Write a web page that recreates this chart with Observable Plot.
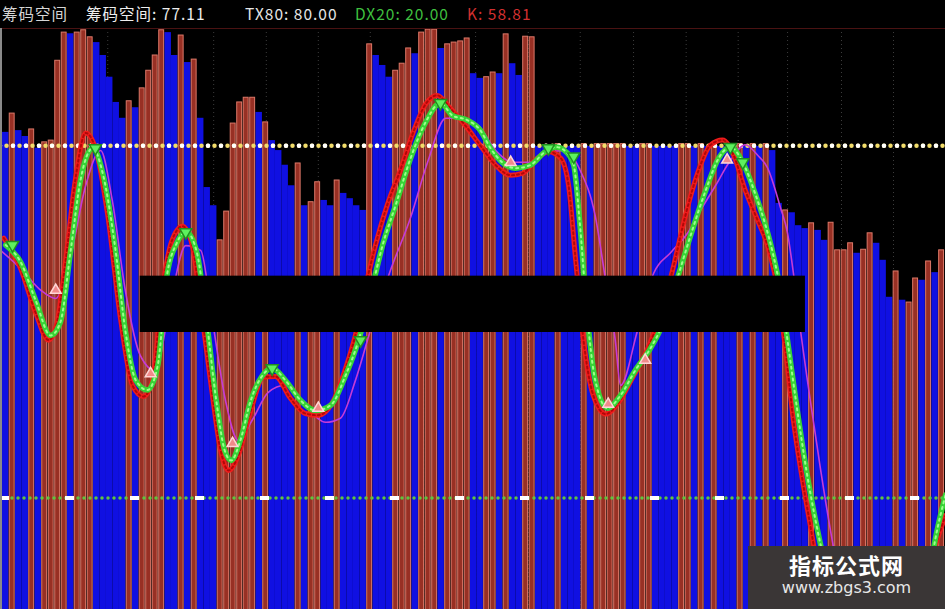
<!DOCTYPE html>
<html><head><meta charset="utf-8">
<script src="https://cdn.jsdelivr.net/npm/d3@7"></script>
<script src="https://cdn.jsdelivr.net/npm/@observablehq/plot@0.6"></script>
<style>
html,body{margin:0;padding:0;background:#000;}
#wrap{position:relative;width:945px;height:609px;overflow:hidden;background:#000;}
#chart svg{display:block;}
#head{position:absolute;left:0;top:0;height:28px;width:945px;font-family:"Noto Sans CJK SC","DejaVu Sans",sans-serif;font-size:15.5px;white-space:nowrap;}
#head span{position:absolute;top:4px;line-height:18px;letter-spacing:1px;}
#wm{position:absolute;left:748px;top:546px;width:197px;height:63px;background:#3a3636;font-family:"Noto Sans CJK SC",sans-serif;text-align:center;}
#wm .t1{color:#fff;font-weight:bold;font-size:22px;line-height:25px;margin-top:6px;letter-spacing:1px;}
#wm .t2{color:#e8e8e8;font-size:16px;line-height:22px;font-family:"DejaVu Sans",sans-serif;}
</style></head>
<body>
<div id="wrap"><div id="chart"></div><div id="head"></div><div id="wm"></div></div>
<script>
// ---- header texts ----
const headLabels = ["筹码空间", "筹码空间: 77.11", "TX80: 80.00", "DX20: 20.00", "K: 58.81"];
const headColors = ["#d6d6d6", "#eeeeee", "#e6e6e6", "#3fbf3f", "#d23030"];
const headLeft = [2, 86, 245, 355, 467];
const watermark = ["指标公式网", "www.zbgs3.com"];

// ---- thresholds ----
const txLevel = [80];
const dxLevel = [20];

// ---- bars (筹码空间) ----
const barKind = ("BRBBRBRRRR" + "BRRRBBBBBR" + "BRRRRBBRBR" + "BBBRRRRRRB" + "RBBBBRBRRB" +
  "BRBBBBRBBB" + "RRRBRRRBRR" + "RRBBRRBRBB" + "RRBBBRBBBR" + "BRRRRRBBRR" +
  "BBBBRRBRBR" + "BBBRBRBRBB" + "RBBBRBBRRR" + "RBRRBBBRBR" + "RBRBR").split("");
const barValue = [
  82.3, 85.5, 82.6, 81.6, 82.8, 79.6, 80.6, 80.9, 94.5, 99.3,
  99.1, 99.3, 99.7, 98.5, 97.6, 95.4, 91.7, 87.4, 84.7, 87.6,
  86.5, 89.8, 92.8, 95.4, 99.7, 99.3, 95.4, 98.8, 94.2, 94.7,
  84.7, 72.9, 69.8, 63.9, 68.8, 83.8, 87.4, 88.2, 88.2, 85.7,
  84.0, 80.9, 79.2, 76.7, 73.2, 77.0, 69.8, 70.4, 73.8, 70.7,
  69.8, 74.1, 71.9, 71.0, 69.8, 69.0, 97.3, 95.4, 93.7, 91.7,
  92.8, 94.0, 96.6, 95.7, 99.3, 99.8, 99.8, 96.6, 97.3, 97.6,
  97.8, 98.3, 92.3, 91.5, 91.7, 92.5, 92.3, 99.0, 94.0, 92.0,
  98.6, 98.5, 79.9, 79.9, 79.9, 80.3, 79.9, 79.9, 79.9, 80.3,
  79.9, 80.3, 80.3, 80.3, 80.3, 80.3, 79.9, 79.9, 80.3, 80.3,
  79.9, 79.9, 79.9, 79.9, 80.3, 80.3, 79.9, 80.3, 79.9, 80.3,
  79.9, 79.9, 79.9, 80.3, 79.9, 80.3, 79.9, 80.3, 79.2, 70.2,
  69.0, 68.6, 66.4, 65.9, 66.8, 65.6, 63.9, 66.9, 62.2, 62.2,
  63.4, 61.7, 62.3, 65.1, 63.4, 60.5, 54.2, 58.6, 53.7, 53.3,
  57.4, 57.1, 60.3, 58.4, 62.2
];

// ---- lines: [bar index, value] ----
const kLine = [[-0.3,64.3],[2.3,59.1],[4.6,51.6],[6.6,46.9],[7.8,49.4],[9.2,60.2],[10.7,74.1],[12.3,82.2],[13.8,79.6],[15.7,68.2],
  [17.7,50.3],[19.5,39.2],[21.2,37.3],[22.6,40.1],[24,54.5],[25.5,63.6],[27.2,66.3],[28.7,63.1],[30.1,52.0],[31.7,38.4],
  [33,28.5],[34.3,24.7],[35.8,27.3],[37.7,34.9],[39.7,40.6],[41.5,40.7],[43.8,37.0],[46.1,34.4],[48.1,34.1],[50.3,36.3],
  [52.3,42.1],[53.8,47.7],[55.4,56.2],[56.9,63.1],[58.7,69.9],[60.7,75.8],[62.7,82.3],[64.6,87.1],[66.4,88.6],[68.4,86.4],
  [70.7,83.5],[73,80.1],[75.4,76.7],[77.7,75.0],[79.5,75.3],[81.5,77.6],[83.5,79.0],[85.4,77.9],[86.6,73.3],[87.7,60.5],
  [88.9,46.9],[90.4,37.5],[92.3,34.3],[94.3,36.3],[96.4,40.4],[98.7,45.2],[100.7,51.1],[102.6,58.8],[104.6,68.2],[106.6,75.8],
  [108.4,80.1],[110.3,81.0],[112,78.4],[113.8,72.4],[115.7,67.3],[117.2,63.1],[118.8,55.4],[120,45.2],[121.2,33.2],[122.6,23.0],
  [123.8,15.3],[125,7.7],[126.3,1.7],[127.7,-6.0],[133.8,-17.9],[139.5,-6.0],[141,2.6],[142.6,10.2],[144.6,17.0]];
const gLine = [[0,63.1],[2.3,60.2],[4.6,53.7],[6.9,47.7],[8.4,49.9],[10,62.2],[11.5,74.1],[13.4,79.6],[15,75.0],[16.9,62.2],
  [18.4,48.6],[20,40.1],[21.8,38.4],[23.4,42.6],[24.7,57.1],[26.3,63.4],[27.8,65.3],[29.4,61.9],[30.9,50.3],[32.4,36.6],
  [33.7,28.1],[34.7,26.4],[36.1,29.8],[37.7,36.6],[39.4,40.7],[41,42.1],[43,40.1],[45.4,36.6],[47.7,34.9],[50,35.8],
  [52.3,40.9],[54.3,46.9],[56.1,54.5],[58,63.1],[60,69.9],[62.3,77.9],[64.6,84.0],[66.9,87.3],[68.7,85.2],[71,84.4],
  [73,82.7],[74.6,79.6],[76.4,77.2],[78.4,76.2],[80.7,76.7],[83,79.0],[84.7,79.8],[86.3,78.9],[87.4,76.7],[88.3,67.3],
  [89.4,52.0],[90.7,40.1],[92.6,35.3],[94.6,37.5],[96.9,41.8],[99.2,45.5],[101,49.4],[103,56.2],[105.4,64.8],[107.7,72.4],
  [109.7,77.9],[111.5,79.8],[113.4,77.2],[115.4,71.6],[116.9,66.5],[118.1,61.4],[119.2,55.4],[120.4,46.0],[121.8,34.9],[123.2,24.7],
  [124.6,16.2],[126.1,8.5],[127.7,1.7],[129.2,-4.3],[134.6,-14.5],[140,-4.3],[141.5,2.6],[143,12.8],[144.6,20.5]];
const dLine = [[-0.8,62.2],[2.3,59.1],[5.4,55.4],[7.7,54.0],[10,61.3],[12.3,73.2],[14.6,79.2],[16.4,70.7],[18.4,55.4],[20.7,44.3],
  [23,41.7],[25.4,53.7],[27.7,63.0],[30,62.2],[31.8,50.3],[33.8,36.7],[35.8,29.8],[37.9,33.2],[40.4,38.0],[43,39.2],
  [46.1,35.8],[49.2,32.9],[51.5,33.6],[53.8,40.0],[56.1,48.5],[59.2,58.8],[62.3,67.8],[65,77.5],[67.7,84.7],[70,84.7],
  [72.7,83.5],[75.4,79.2],[78,77.2],[80.7,77.2],[83.5,78.9],[86.1,79.2],[88.4,75.8],[90.7,68.1],[92.3,57.1],[93.8,46.8],
  [94.6,39.2],[97.2,48.5],[99.7,58.3],[102.3,61.8],[104.9,65.1],[106.9,69.0],[109.2,73.2],[111.5,77.5],[113.8,80.2],[115.7,78.4],
  [117.2,76.3],[119.2,69.5],[120.3,65.1],[121.2,58.3],[122.3,48.5],[123.8,36.6],[125.4,24.7],[126.9,14.5],[128.4,5.9],[130.3,-0.9]];

// ---- signal arrows: [bar index, value] ----
const sellMarks = [[1.05,63.1],[13.8,79.6],[27.7,65.3],[41,42.1],[54.6,46.9],[66.9,87.3],[83.5,79.6],[87.4,78.2],[111.5,79.8],[113.4,77.2]];
const buyMarks = [[7.7,55.4],[22.3,41.2],[34.9,29.3],[48.1,35.3],[77.7,77.2],[92.7,36.0],[98.4,43.5],[111,77.6]];

// ---- vertical dotted grid & masked band ----
const gridTicks = [15.7, 23.8, 32, 40.1, 48.1, 56.1, 64.3, 72.3, 80.4, 88.4, 96.6, 104.7, 112.7, 120.3, 128.6, 136.6];
const maskX = [20.7, 123.05];
const maskY = [48.2, 57.8];

const bars = barValue.map((v, i) => ({i, v, k: barKind[i]}));
const toObj = a => a.map(([i, v]) => ({i, v}));

const chart = Plot.plot({
  width: 945, height: 609,
  marginTop: 28, marginBottom: 0, marginLeft: 0, marginRight: 0,
  x: {domain: [-0.8, 144.6], axis: null},
  y: {domain: [1, 100], axis: null},
  style: {background: "#000", overflow: "hidden"},
  marks: [
    Plot.ruleX(gridTicks, {stroke: "#3c3c3c", strokeWidth: 1, strokeDasharray: "1 3"}),
    Plot.rectY(bars.filter(d => d.k === "B"), {x1: d => d.i - 0.5, x2: d => d.i + 0.5, y1: 0, y2: "v", fill: "#1010e2"}),
    Plot.rectY(bars.filter(d => d.k === "R"), {x1: d => d.i - 0.5, x2: d => d.i + 0.5, y1: 0, y2: "v", fill: "#983024", stroke: "#dc7868", strokeWidth: 1, insetLeft: 0.8, insetRight: 0.8}),
    Plot.ruleY([100], {stroke: "#4a1212", strokeWidth: 1}),
    Plot.ruleY(txLevel, {stroke: "#f2dc6a", strokeWidth: 4.5, strokeDasharray: "0 6.5", strokeLinecap: "round"}),
    Plot.ruleY(txLevel, {stroke: "#ffffff", strokeWidth: 4.5, strokeDasharray: "0 13", strokeLinecap: "round"}),
    Plot.ruleY(dxLevel, {stroke: "#5ec43e", strokeWidth: 3.5, strokeDasharray: "0 6", strokeLinecap: "round"}),
    Plot.ruleY(dxLevel, {stroke: "#ffffff", strokeWidth: 4, strokeDasharray: "9 56"}),
    Plot.line(toObj(dLine), {x: "i", y: "v", curve: "monotone-x", stroke: "#c53bd6", strokeWidth: 1.6, clip: true}),
    Plot.line(toObj(kLine), {x: "i", y: "v", curve: "monotone-x", stroke: "#f01c1c", strokeWidth: 5, clip: true}),
    Plot.line(toObj(kLine), {x: "i", y: "v", curve: "monotone-x", stroke: "#b00808", strokeWidth: 2, strokeDasharray: "2 3", clip: true}),
    Plot.line(toObj(gLine), {x: "i", y: "v", curve: "monotone-x", stroke: "#36d336", strokeWidth: 5.5, clip: true}),
    Plot.line(toObj(gLine), {x: "i", y: "v", curve: "monotone-x", stroke: "#9cff8c", strokeWidth: 2, strokeDasharray: "2 4", clip: true}),
    Plot.dot(toObj(sellMarks), {x: "i", y: "v", symbol: "triangle", rotate: 180, r: 4.5, fill: "#5ef05e", stroke: "#1f8f1f"}),
    Plot.dot(toObj(buyMarks), {x: "i", y: "v", symbol: "triangle", r: 4, fill: "#f08a8a", stroke: "#ffd6d6"}),
    Plot.rect([{x1: maskX[0], x2: maskX[1], y1: maskY[0], y2: maskY[1]}], {x1: "x1", x2: "x2", y1: "y1", y2: "y2", fill: "#000"}),
    Plot.ruleX([-0.8], {stroke: "#8a8a8a", strokeWidth: 3})
  ]
});
document.getElementById("chart").appendChild(chart);

const head = document.getElementById("head");
headLabels.forEach((t, k) => {
  const s = document.createElement("span");
  s.textContent = t; s.style.left = headLeft[k] + "px"; s.style.color = headColors[k];
  head.appendChild(s);
});
const wm = document.getElementById("wm");
wm.innerHTML = `<div class="t1">${watermark[0]}</div><div class="t2">${watermark[1]}</div>`;
</script>
</body></html>
